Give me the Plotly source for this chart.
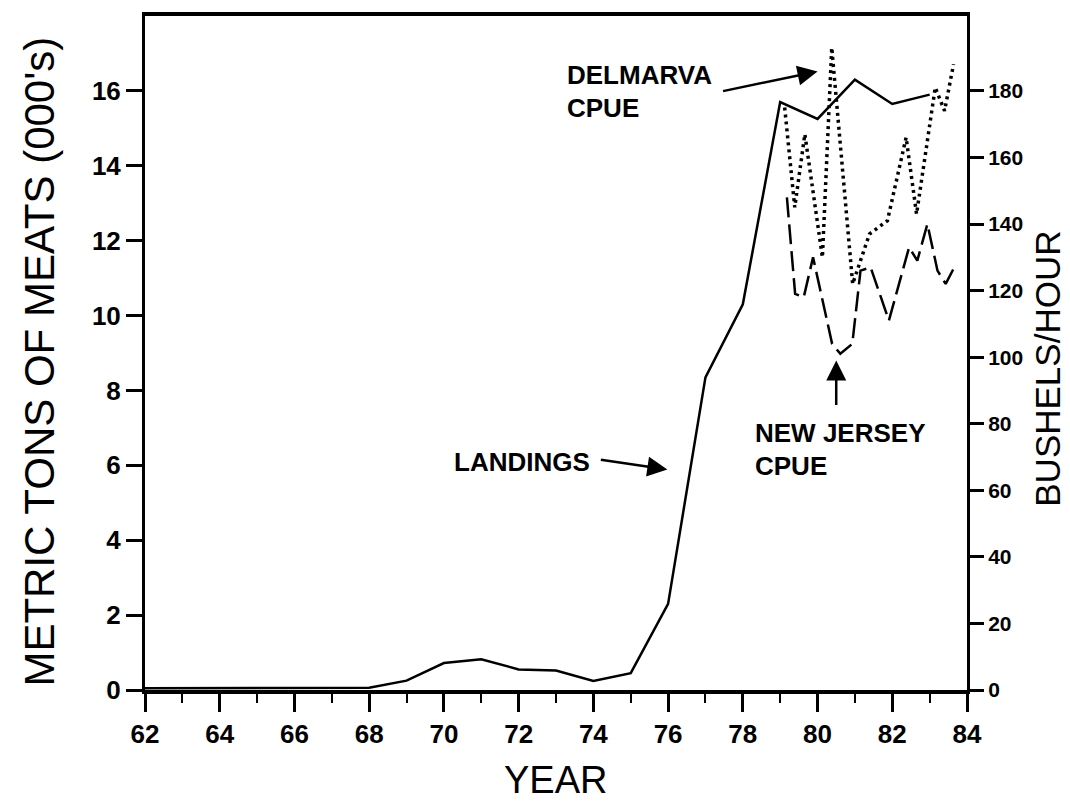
import plotly.graph_objects as go

# landings, metric tons of meats (000's)
land_year = [62, 63, 64, 65, 66, 67, 68, 69, 70, 71, 72, 73, 74, 75, 76, 77, 78, 79, 80, 81, 82, 83]
land_tons = [0.05, 0.05, 0.05, 0.04, 0.04, 0.04, 0.06, 0.25, 0.72, 0.82, 0.55, 0.52, 0.24, 0.45,
             2.3, 8.35, 10.3, 15.7, 15.25, 16.3, 15.65, 15.9]

# Delmarva CPUE, bushels/hour
dm_year = [79.12, 79.39, 79.66, 80.13, 80.38, 80.94, 81.39, 81.87, 82.37, 82.65, 83.15, 83.4, 83.64]
dm_cpue = [175, 145, 167, 130, 193, 122, 137, 141, 166, 143, 181, 174, 188]

# New Jersey CPUE, bushels/hour
nj_year = [79.18, 79.4, 79.63, 79.88, 80.39, 80.61, 80.93, 81.15, 81.42, 81.91, 82.45, 82.67,
           82.94, 83.21, 83.43, 83.66]
nj_cpue = [148, 119, 118, 130, 104, 101, 104, 126, 127, 111, 133, 129, 140, 126, 122, 127]

x_ticks = list(range(62, 85, 2))
left_ticks = list(range(0, 17, 2))
right_ticks = list(range(0, 181, 20))

FONT = "Liberation Sans, Arial, sans-serif"

fig = go.Figure()
fig.add_trace(go.Scatter(x=land_year, y=land_tons, mode="lines",
                         line={"color": "black", "width": 2.5}, name="Landings"))
fig.add_trace(go.Scatter(x=dm_year, y=dm_cpue, mode="lines", yaxis="y2",
                         line={"color": "black", "width": 3.5, "dash": "3px,4px"}, name="Delmarva CPUE"))
fig.add_trace(go.Scatter(x=nj_year, y=nj_cpue, mode="lines", yaxis="y2",
                         line={"color": "black", "width": 2.5, "dash": "20px,7px"}, name="New Jersey CPUE"))

axis_font = {"family": FONT, "size": 26, "color": "black", "weight": "bold"}

# the page body has an 8px margin, so the margins are trimmed by that amount
fig.update_layout(
    width=1070, height=805,
    margin={"l": 137, "r": 111, "t": 4, "b": 123},
    paper_bgcolor="white", plot_bgcolor="white",
    showlegend=False,
    font={"family": FONT, "color": "black"},
    xaxis={
        "range": [62, 84], "tickvals": x_ticks, "ticks": "outside", "ticklen": 18,
        "tickwidth": 2.5, "tickcolor": "black", "showline": True, "linewidth": 4,
        "linecolor": "black", "mirror": True, "showgrid": False, "zeroline": False,
        "tickfont": axis_font,
        "minor": {"dtick": 1, "ticks": "outside", "ticklen": 9, "tickwidth": 2, "tickcolor": "black"},
    },
    yaxis={
        "range": [0, 18], "tickvals": left_ticks, "ticks": "outside", "ticklen": 16,
        "tickwidth": 2.5, "tickcolor": "black", "showline": True, "linewidth": 3,
        "linecolor": "black", "showgrid": False, "zeroline": False, "tickfont": axis_font,
    },
    yaxis2={
        "range": [0, 202.5], "tickvals": right_ticks, "ticks": "outside", "ticklen": 14,
        "tickwidth": 2.5, "tickcolor": "black", "showline": True, "linewidth": 3,
        "linecolor": "black", "showgrid": False, "zeroline": False, "overlaying": "y",
        "side": "right",
        "tickfont": {"family": FONT, "size": 21, "color": "black", "weight": "bold"},
    },
)

# axis titles
fig.add_annotation(text="METRIC TONS OF MEATS (000's)", xref="paper", yref="paper",
                   x=-0.128, y=0.487, xanchor="center", yanchor="middle", textangle=-90,
                   showarrow=False, font={"family": FONT, "size": 42})
fig.add_annotation(text="YEAR", xref="paper", yref="paper", x=0.499, y=-0.133,
                   xanchor="center", yanchor="middle", showarrow=False,
                   font={"family": FONT, "size": 38})
fig.add_annotation(text="BUSHELS/HOUR", xref="paper", yref="paper", x=1.098, y=0.476,
                   xanchor="center", yanchor="middle", textangle=-90, showarrow=False,
                   font={"family": FONT, "size": 35})

label_font = {"family": FONT, "size": 26, "color": "black", "weight": "bold"}
# text labels
fig.add_annotation(text="DELMARVA", x=73.23, y=16.42, xanchor="left", showarrow=False, font=label_font)
fig.add_annotation(text="CPUE", x=73.23, y=15.55, xanchor="left", showarrow=False, font=label_font)
fig.add_annotation(text="LANDINGS", x=70.21, y=6.1, xanchor="left", showarrow=False, font=label_font)
fig.add_annotation(text="NEW JERSEY", x=78.28, y=6.87, xanchor="left", showarrow=False, font=label_font)
fig.add_annotation(text="CPUE", x=78.28, y=5.97, xanchor="left", showarrow=False, font=label_font)

# arrows
arrow = {"showarrow": True, "arrowhead": 2, "arrowsize": 1.6, "arrowwidth": 2.5,
         "arrowcolor": "black", "text": "", "axref": "pixel", "ayref": "pixel"}
fig.add_annotation(x=80.0, y=16.52, ax=-96, ay=20, **arrow)
fig.add_annotation(x=75.98, y=5.89, ax=-68, ay=-10, **arrow)
fig.add_annotation(x=80.5, y=8.8, ax=0, ay=46, **arrow)

fig.write_html("out.html")
